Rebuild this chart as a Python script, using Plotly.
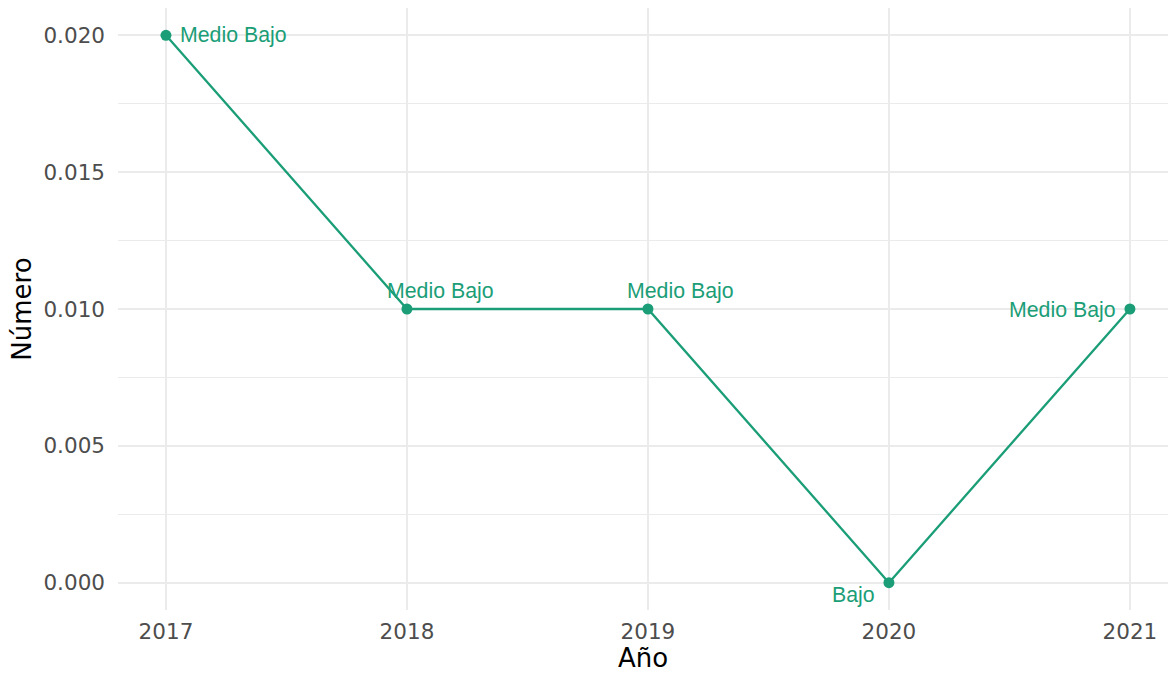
import plotly.graph_objects as go

# Series data
years = [2017, 2018, 2019, 2020, 2021]
values = [0.020, 0.010, 0.010, 0.000, 0.010]
labels = ["Medio Bajo", "Medio Bajo", "Medio Bajo", "Bajo", "Medio Bajo"]
y_ticks = [0.000, 0.005, 0.010, 0.015, 0.020]
y_tick_text = ["0.000", "0.005", "0.010", "0.015", "0.020"]

GREEN = "#1B9E77"
GRID = "#EBEBEB"
TICK_FONT = dict(family="DejaVu Sans", size=21.5, color="#4D4D4D")
TITLE_FONT = dict(family="DejaVu Sans", size=26, color="#000000")
LABEL_FONT = dict(family="Liberation Sans", size=21.3, color=GREEN)

fig = go.Figure()
fig.add_trace(go.Scatter(
    x=years, y=values, mode="lines+markers",
    line=dict(color=GREEN, width=2.3),
    marker=dict(color=GREEN, size=11),
    showlegend=False, hoverinfo="skip",
))

# label placement (anchor, pixel shifts) for each point
label_layout = [
    ("left", 12, 0),
    ("center", 34, 18),
    ("center", 33, 18),
    ("center", -35, -12),
    ("right", -12, -1),
]
for xv, yv, txt, (anchor, dx, dy) in zip(years, values, labels, label_layout):
    fig.add_annotation(
        x=xv, y=yv, text=txt, showarrow=False, xref="x", yref="y",
        xanchor=anchor, yanchor="middle", xshift=dx, yshift=dy,
        font=LABEL_FONT,
    )

fig.update_layout(
    width=1168, height=674,
    margin=dict(l=118, r=0, t=8, b=64),
    paper_bgcolor="white", plot_bgcolor="white",
)
fig.update_xaxes(
    range=[2016.801, 2021.158],
    tickvals=years, ticktext=[str(y) for y in years],
    showgrid=True, gridcolor=GRID, gridwidth=2,
    zeroline=False, showline=False,
    tickfont=TICK_FONT, ticks="", ticklabelstandoff=6,
    title=dict(text="Año", font=TITLE_FONT, standoff=2),
)
fig.update_yaxes(
    range=[-0.0010, 0.0210],
    tickvals=y_ticks, ticktext=y_tick_text,
    showgrid=True, gridcolor=GRID, gridwidth=2,
    minor=dict(dtick=0.0025, tick0=0, showgrid=True, gridcolor=GRID, gridwidth=1),
    zeroline=False, showline=False,
    tickfont=TICK_FONT, ticks="", ticklabelstandoff=12,
    title=dict(text="Número", font=TITLE_FONT, standoff=4),
)

fig.write_html("out.html")
